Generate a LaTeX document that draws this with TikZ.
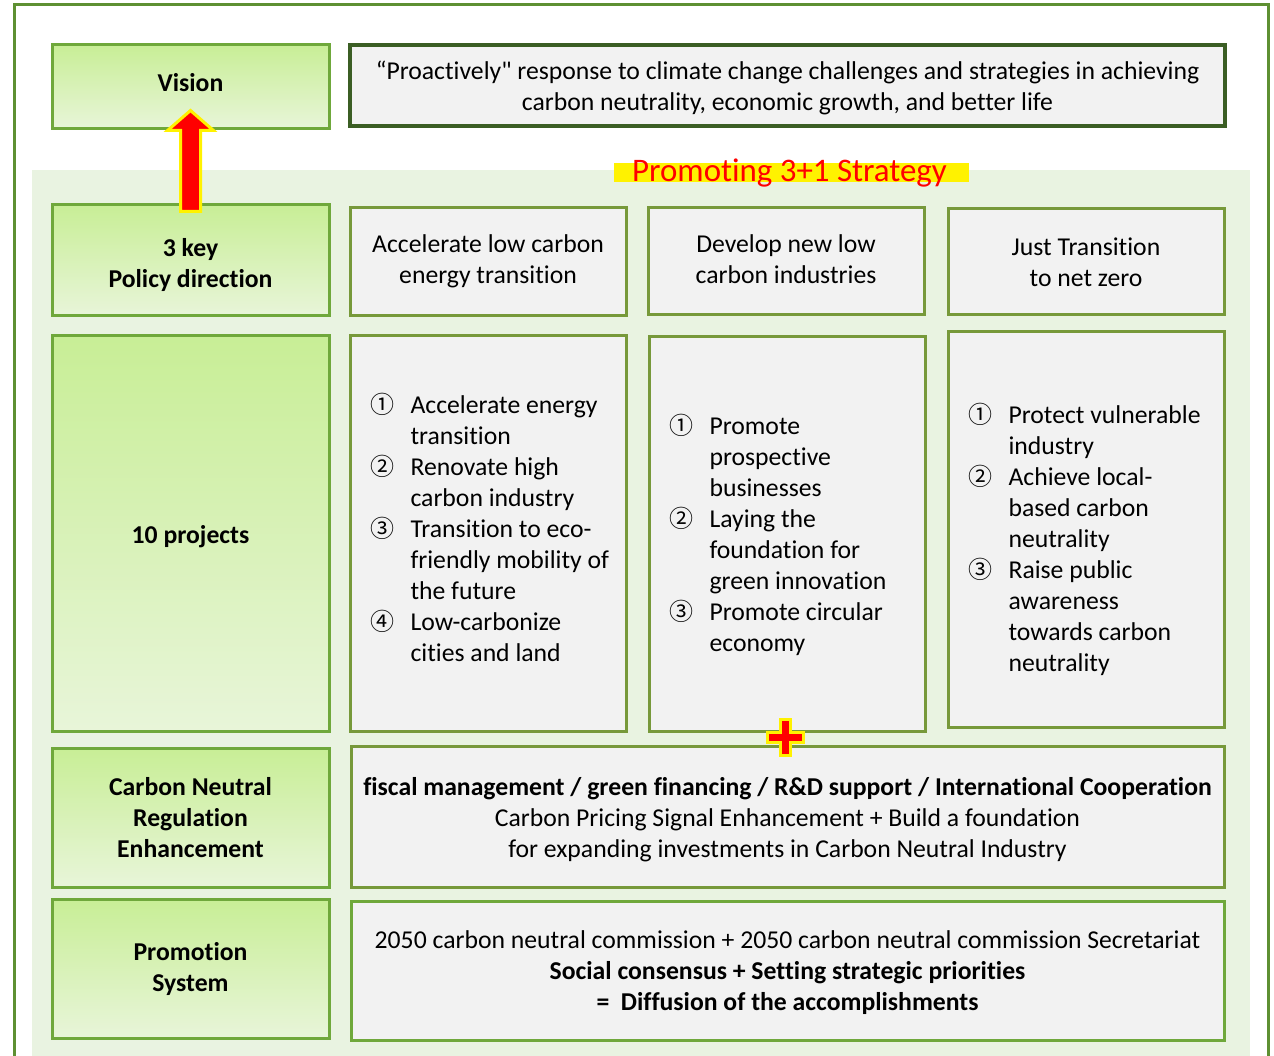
\documentclass[tikz,border=0pt]{standalone}
\usepackage{fontspec}
\setmainfont{Carlito}[Ligatures={TeX,NoCommon}]
\newfontfamily\plainfont{Carlito}
\newfontfamily\circfont{Noto Sans CJK KR}
\usetikzlibrary{calc}
\definecolor{framegreen}{HTML}{5E9032}
\definecolor{bggreen}{HTML}{E9F3E1}
\definecolor{leftedge}{HTML}{6FA83B}
\definecolor{lefttop}{HTML}{C8EE96}
\definecolor{leftbot}{HTML}{E8F5D9}
\definecolor{boxgrey}{HTML}{F2F2F2}
\definecolor{boxedge}{HTML}{77993A}
\definecolor{visionedge}{HTML}{3B5E24}
\newcommand{\itm}[1]{\makebox[40pt][l]{\smash{\circfont\fontsize{24}{31}\selectfont #1}}}
\begin{document}
\begin{tikzpicture}[x=1pt,y=-1pt,
            font=\fontsize{25.7}{31}\selectfont,
            lbox/.style={draw=leftedge,line width=3pt,top color=lefttop,bottom color=leftbot,inner sep=0pt},
            rbox/.style={draw=boxedge,line width=3pt,fill=boxgrey,inner sep=0pt},
            ltxt/.style={align=center,font=\fontsize{25.7}{31}\selectfont\bfseries,inner sep=0pt},
            rtxt/.style={align=center,inner sep=0pt},
            hilite/.style={fill=red,draw=yellow,line width=3pt,line join=miter}]
            \clip (0,0) rectangle (1274,1056);
            \fill[bggreen] (32,170) rectangle (1250,1070);
            \draw[framegreen,line width=3pt] (14,5) rectangle (1268,1070);
            \fill[yellow] (614,163) rectangle (969,182);
            % boxes
            \path
            (190.5,87) node[lbox,minimum width=277pt,minimum height=84pt] (vision) {} % <<< row 1
            (787.5,85.5) node[rbox,draw=visionedge,line width=3.5pt,minimum width=875pt,minimum height=81pt] (visiontext) {}
            (190.5,260.5) node[lbox,minimum width=277pt,minimum height=111pt] (key) {} % <<< row 2
            (488,262) node[rbox,minimum width=276pt,minimum height=108pt] (pol1) {}
            (786,261.5) node[rbox,minimum width=276pt,minimum height=107pt] (pol2) {}
            (1086,262) node[rbox,minimum width=276pt,minimum height=106pt] (pol3) {}
            (190.5,533.5) node[lbox,minimum width=277pt,minimum height=395pt] (proj) {} % <<< row 3
            (488,533.5) node[rbox,minimum width=276pt,minimum height=395pt] (prj1) {}
            (787,534) node[rbox,minimum width=276pt,minimum height=394pt] (prj2) {}
            (1086,529.5) node[rbox,minimum width=276pt,minimum height=395pt] (prj3) {}
            (190.5,817.5) node[lbox,minimum width=277pt,minimum height=139pt] (reg) {} % <<< row 4
            (787.5,816.5) node[rbox,minimum width=873pt,minimum height=141pt] (regtext) {}
            (190.5,968.5) node[lbox,minimum width=277pt,minimum height=139pt] (promo) {} % <<< row 5
            (787.5,970.5) node[rbox,draw=leftedge,minimum width=873pt,minimum height=139pt] (promotext) {};
            % texts
            \node[ltxt] (visionlbl) at ($(vision.center)+(0,-4)$) {Vision};
            \node[rtxt] (visionlines) at ($(visiontext.center)+(0,2.5)$)
                {“Proactively{\plainfont"} response to climate change challenges and strategies in achieving\\
                carbon neutrality, economic growth, and better life};
            \node[text=red,font=\fontsize{32.9}{34}\selectfont] (strategy) at (789.5,173) {Promoting 3+1 Strategy};
            \node[ltxt] (keylbl) at ($(key.center)+(0,5)$) {3 key\\Policy direction};
            \node[rtxt] (pol1lbl) at ($(pol1.center)+(0,-0.5)$) {Accelerate low carbon\\energy transition};
            \node[rtxt] (pol2lbl) at ($(pol2.center)+(0,-2.5)$) {Develop new low\\carbon industries};
            \node[rtxt] (pol3lbl) at ($(pol3.center)+(0,0.5)$) {Just Transition\\to net zero};
            \node[ltxt] (projlbl) at ($(proj.center)+(0,3.5)$) {10 projects};
            \node[ltxt] (reglbl) at ($(reg.center)+(0,0.5)$) {Carbon Neutral\\Regulation\\Enhancement};
            \node[rtxt] (reglines) at ($(regtext.center)+(0,3.5)$)
                {\textbf{fiscal management / green financing / R\&D support / International Cooperation}\\
                Carbon Pricing Signal Enhancement + Build a foundation\\
                for expanding investments in Carbon Neutral Industry};
            \node[ltxt] (promolbl) at ($(promo.center)+(0,0.5)$) {Promotion\\System};
            \node[rtxt] (promolines) at ($(promotext.center)+(0,2.5)$)
                {2050 carbon neutral commission + 2050 carbon neutral commission Secretariat\\
                \textbf{Social consensus + Setting strategic priorities}\\
                \textbf{=\ \ Diffusion of the accomplishments}};
            % project lists
            \node[anchor=west] (list1) at (367,531.5) {\begin{tabular}{@{}l@{}l@{}}
                \itm{①} & Accelerate energy\\ & transition\\
                \itm{②} & Renovate high\\ & carbon industry\\
                \itm{③} & Transition to eco-\\ & friendly mobility of\\ & the future\\
                \itm{④} & Low-carbonize\\ & cities and land
                \end{tabular}};
            \node[anchor=west] (list2) at (666,536.5) {\begin{tabular}{@{}l@{}l@{}}
                \itm{①} & Promote\\ & prospective\\ & businesses\\
                \itm{②} & Laying the\\ & foundation for\\ & green innovation\\
                \itm{③} & Promote circular\\ & economy
                \end{tabular}};
            \node[anchor=west] (list3) at (965,541.5) {\begin{tabular}{@{}l@{}l@{}}
                \itm{①} & Protect vulnerable\\ & industry\\
                \itm{②} & Achieve local-\\ & based carbon\\ & neutrality\\
                \itm{③} & Raise public\\ & awareness\\ & towards carbon\\ & neutrality
                \end{tabular}};
            % arrow and plus
            \draw[hilite] (key.north) ++(-10,8) -- ++(0,-81) -- ++(-13,0) -- ++(23,-20)
                -- ++(23,20) -- ++(-13,0) -- ++(0,81) -- cycle;
            \coordinate (plus) at (785,737.5);
            \draw[hilite] (plus) ++(-5,-5) -- ++(0,-13) -- ++(10,0) -- ++(0,13) -- ++(13,0)
                -- ++(0,10) -- ++(-13,0) -- ++(0,13) -- ++(-10,0) -- ++(0,-13) -- ++(-13,0)
                -- ++(0,-10) -- cycle;
        \end{tikzpicture}
\end{document}
